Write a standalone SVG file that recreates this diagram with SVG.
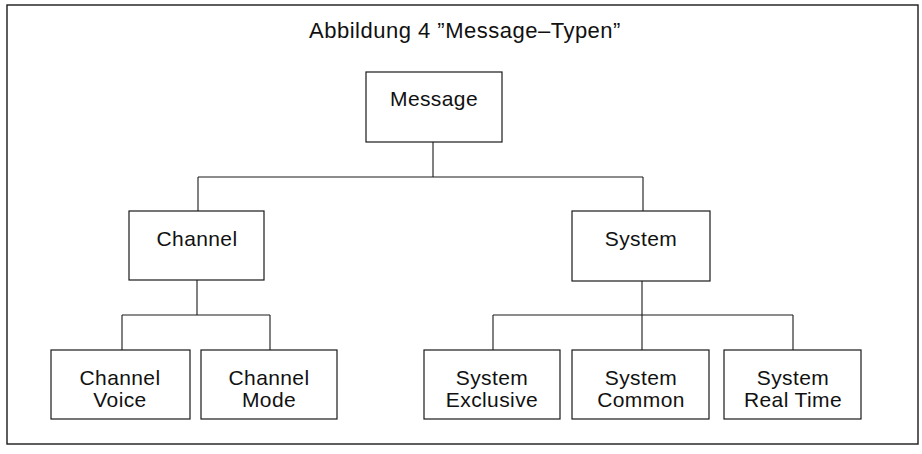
<svg xmlns="http://www.w3.org/2000/svg" width="922" height="454" viewBox="0 0 922 454">
  <style>
    .box { fill: #ffffff; stroke: #1a1a1a; stroke-width: 1.2; }
    .frame { fill: none; stroke: #1a1a1a; stroke-width: 1.4; }
    .wire { fill: none; stroke: #1a1a1a; stroke-width: 1.1; }
    .lbl { font-family: "Liberation Sans", Arial, sans-serif; font-size: 21px; letter-spacing: 0.4px; fill: #111; text-anchor: middle; }
    .title { font-family: "Liberation Sans", Arial, sans-serif; font-size: 22px; letter-spacing: 0.5px; fill: #111; }
  </style>
  <rect width="922" height="454" fill="#ffffff"/>
  <rect class="frame" x="7" y="5" width="911" height="439"/>
  <text class="title" x="309" y="38">Abbildung 4 ”Message–Typen”</text>

  <g id="connectors">
    <path class="wire" d="M433,142 V177 M198,177 H643 M198,177 V211 M643,177 V211"/>
    <path class="wire" d="M197,280 V315 M122,315 H270 M122,315 V350 M270,315 V350"/>
    <path class="wire" d="M642,281 V315 M493,315 H793 M493,315 V350 M642,315 V350 M793,315 V350"/>
  </g>

  <g id="message">
    <rect class="box" x="366" y="72" width="136" height="70"/>
    <text class="lbl" x="434" y="106">Message</text>
  </g>
  <g id="channel">
    <rect class="box" x="129" y="211" width="135" height="69"/>
    <text class="lbl" x="197" y="246">Channel</text>
  </g>
  <g id="system">
    <rect class="box" x="572" y="211" width="138" height="70"/>
    <text class="lbl" x="641" y="246">System</text>
  </g>
  <g id="channel-voice">
    <rect class="box" x="51" y="350" width="139" height="69"/>
    <text class="lbl" x="120" y="385">Channel</text>
    <text class="lbl" x="120" y="407">Voice</text>
  </g>
  <g id="channel-mode">
    <rect class="box" x="201" y="350" width="136" height="69"/>
    <text class="lbl" x="269" y="385">Channel</text>
    <text class="lbl" x="269" y="407">Mode</text>
  </g>
  <g id="system-exclusive">
    <rect class="box" x="424" y="350" width="136" height="69"/>
    <text class="lbl" x="492" y="385">System</text>
    <text class="lbl" x="492" y="407">Exclusive</text>
  </g>
  <g id="system-common">
    <rect class="box" x="572" y="350" width="137" height="69"/>
    <text class="lbl" x="641" y="385">System</text>
    <text class="lbl" x="641" y="407">Common</text>
  </g>
  <g id="system-real-time">
    <rect class="box" x="724" y="350" width="137" height="69"/>
    <text class="lbl" x="793" y="385">System</text>
    <text class="lbl" x="793" y="407">Real Time</text>
  </g>
</svg>
